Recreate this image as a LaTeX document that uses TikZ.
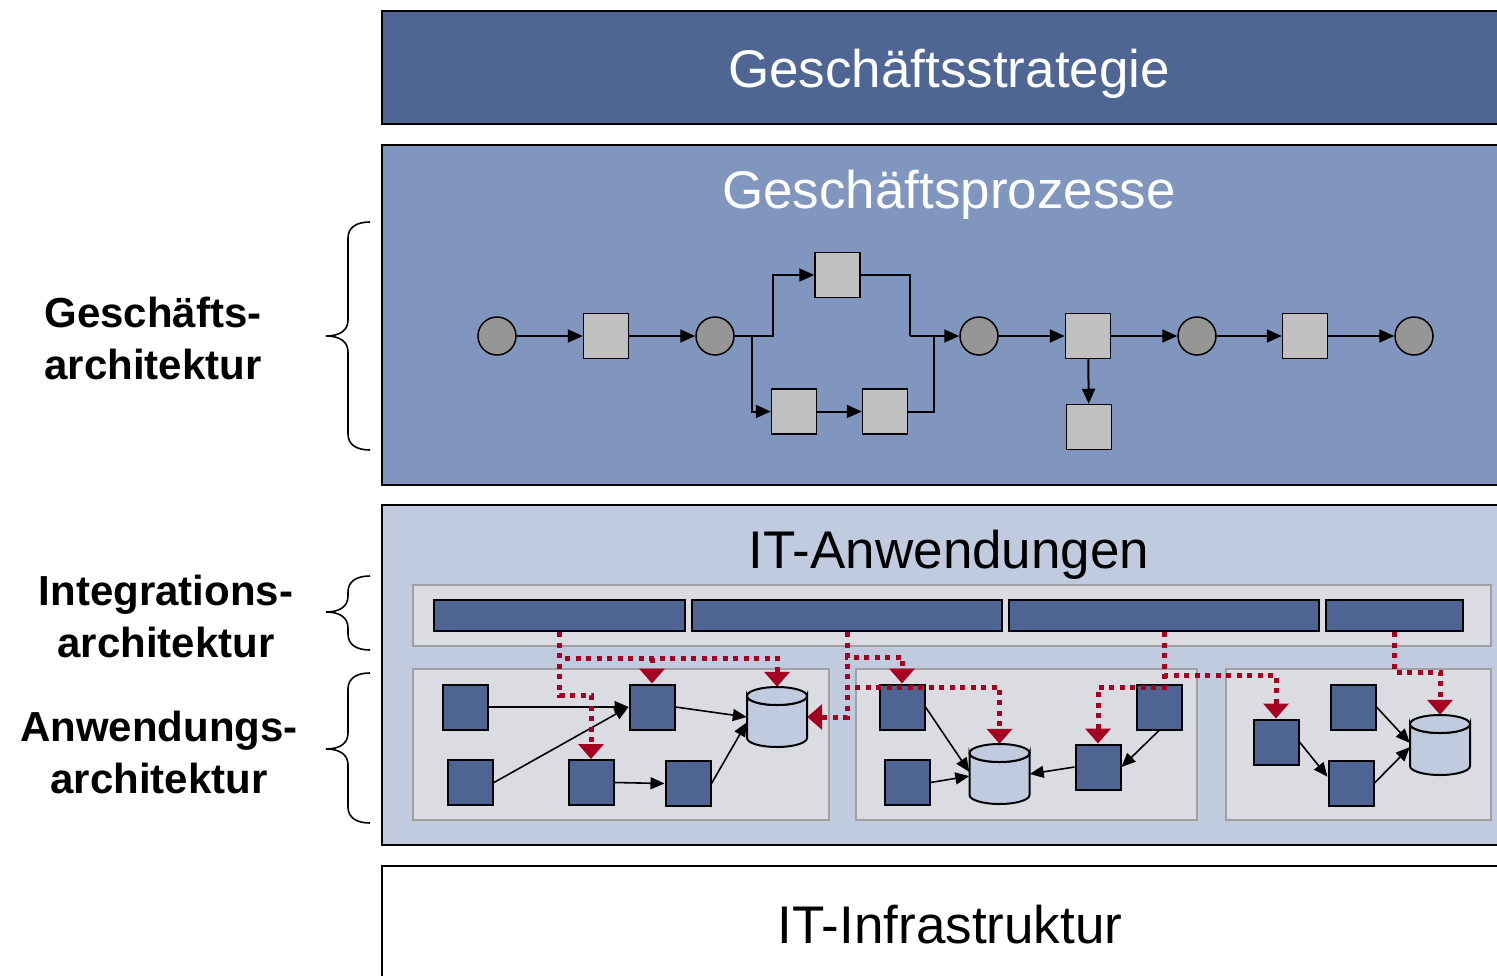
\documentclass[tikz,border=0pt]{standalone}
\usepackage{fontspec}
\setmainfont{Liberation Sans}
\usetikzlibrary{arrows.meta}

\definecolor{stratblue}{RGB}{79,101,148}
\definecolor{procblue}{RGB}{128,150,190}
\definecolor{appblue}{RGB}{192,203,224}
\definecolor{panelgray}{RGB}{218,220,225}
\definecolor{panelline}{RGB}{160,160,160}
\definecolor{compblue}{RGB}{78,100,146}
\definecolor{taskgray}{RGB}{192,192,192}
\definecolor{eventgray}{RGB}{150,150,150}
\definecolor{linkred}{RGB}{165,0,33}

% data store: a box node for anchoring plus the drawn cylinder
\newcommand\dbstore[3]{%
  \node[storebox] (#1) at (#2,#3) {};
  \filldraw[store] (#2-30,#3-21) -- (#2-30,#3+21)
    arc[start angle=180,end angle=0,x radius=30,y radius=9]
    -- (#2+30,#3-21) arc[start angle=0,end angle=180,x radius=30,y radius=9] -- cycle;
  \filldraw[store] (#2,#3-21) ellipse[x radius=30,y radius=9];
}
% curly brace opening to the right: top, tip, bottom
\newcommand\sidebrace[3]{%
  \draw[brace] (370,#1) .. controls (357,#1) and (348,#1+5) .. (348,#1+16)
    -- (348,#2-16) .. controls (348,#2-5) and (339,#2) .. (326,#2)
    .. controls (339,#2) and (348,#2+5) .. (348,#2+16)
    -- (348,#3-16) .. controls (348,#3-5) and (357,#3) .. (370,#3);
}

\begin{document}
\begin{tikzpicture}[x=1pt,y=-1pt,
  layer/.style={draw=black,line width=2pt},
  bandtitle/.style={font=\fontsize{53}{60}\selectfont,anchor=base,inner sep=0pt},
  sidelabel/.style={font=\bfseries\fontsize{42}{52}\selectfont,align=center,inner sep=0pt},
  brace/.style={line width=1.6pt},
  event/.style={circle,draw=black,line width=1.5pt,fill=eventgray,minimum size=38pt,inner sep=0pt},
  task/.style={rectangle,draw=black,line width=1.5pt,fill=taskgray,minimum size=45pt,inner sep=0pt},
  flowline/.style={line width=2pt},
  flow/.style={flowline,-{Triangle[length=15pt,width=13pt]}},
  panel/.style={draw=panelline,line width=2pt,fill=panelgray},
  bar/.style={rectangle,draw=black,line width=2pt,fill=compblue,minimum height=31pt,inner sep=0pt},
  comp/.style={rectangle,draw=black,line width=2pt,fill=compblue,minimum size=45pt,inner sep=0pt},
  storebox/.style={rectangle,minimum width=60pt,minimum height=60pt,inner sep=0pt},
  store/.style={draw=black,line width=2pt,fill=appblue},
  dep/.style={line width=1.6pt,-{Triangle[length=14pt,width=12pt]}},
  link/.style={draw=linkred,line width=5pt,dash pattern=on 5pt off 5.5pt},
  linkarrow/.style={link,-{Triangle[length=15pt,width=25pt]}}
]
\useasboundingbox (0,0) rectangle (1497,975);
\clip (0,0) rectangle (1497,975);

% ---- layers ----
\draw[layer,fill=stratblue] (382,11) rectangle (1520,124);
\draw[layer,fill=procblue]  (382,145) rectangle (1520,485);
\draw[layer,fill=appblue]   (382,505) rectangle (1520,845);
\draw[layer,fill=white]     (382,866) rectangle (1520,995);

\node[bandtitle,text=white] (tStrat) at (949,87)  {Geschäftsstrategie};
\node[bandtitle,text=white] (tProc)  at (949,208) {Geschäftsprozesse};
\node[bandtitle]            (tApps)  at (949,568) {IT-Anwendungen};
\node[bandtitle]            (tInfra) at (950,943) {IT-Infrastruktur};

% ---- side labels ----
\node[sidelabel] (lBiz) at (153,338) {Geschäfts-\\architektur};
\node[sidelabel] (lInt) at (166,616) {Integrations-\\architektur};
\node[sidelabel] (lApp) at (159,752) {Anwendungs-\\architektur};
\sidebrace{222}{336}{450}
\sidebrace{576}{612}{650}
\sidebrace{673}{749}{823}

% ---- business process ----
\node[event] (e1) at (497,336) {};
\node[task]  (p1) at (606,336) {};
\node[event] (e2) at (715,336) {};
\node[task]  (pt) at (837.5,275) {};
\node[task]  (pb1) at (794,411.5) {};
\node[task]  (pb2) at (885,411.5) {};
\node[event] (e3) at (979,336) {};
\node[task]  (p3) at (1088,336) {};
\node[task]  (p3b) at (1089,427) {};
\node[event] (e4) at (1197,336) {};
\node[task]  (p4) at (1305,336) {};
\node[event] (e5) at (1414,336) {};

\coordinate (split) at (752,336);
\coordinate (fork)  at (773,336);
\coordinate (joinA) at (910,336);
\coordinate (joinB) at (934,336);

\draw[flow] (e1) -- (p1);
\draw[flow] (p1) -- (e2);
\draw[flow] (e2.east) -- (fork) |- (pt.west);
\draw[flow] (split) |- (pb1.west);
\draw[flow] (pb1) -- (pb2);
\draw[flowline] (pt.east) -| (joinA);
\draw[flowline] (pb2.east) -| (joinB);
\draw[flow] (joinA) -- (e3.west);
\draw[flow] (e3) -- (p3);
\draw[flow] (p3) -- (p3b);
\draw[flow] (p3) -- (e4);
\draw[flow] (e4) -- (p4);
\draw[flow] (p4) -- (e5);

% ---- integration layer ----
\draw[panel] (413,585) rectangle (1491,646);
\node[bar,minimum width=251pt] (bar1) at (559.5,615.5) {};
\node[bar,minimum width=310pt] (bar2) at (847,615.5) {};
\node[bar,minimum width=310pt] (bar3) at (1164,615.5) {};
\node[bar,minimum width=137pt] (bar4) at (1394.5,615.5) {};

% ---- application panels ----
\draw[panel] (413,669) rectangle (829,820);
\draw[panel] (856,669) rectangle (1197,820);
\draw[panel] (1226,669) rectangle (1491,820);

% first application
\node[comp] (a1) at (465,707) {};
\node[comp] (a2) at (470.5,782.5) {};
\node[comp] (a3) at (652,707) {};
\node[comp] (a4) at (591,782.5) {};
\node[comp] (a5) at (688,783.5) {};
\dbstore{d1}{777}{717}
\draw[dep] (a1.east) -- (a3.west);
\draw[dep] (a2.east) -- (a3.west);
\draw[dep] (a3.east) -- (d1.west);
\draw[dep] (a4.east) -- (a5.west);
\draw[dep] (a5.east) -- (d1.190);

% second application
\node[comp] (b1) at (902,707) {};
\node[comp] (b2) at (907,782.5) {};
\node[comp] (b3) at (1098,767) {};
\node[comp] (b4) at (1159,707) {};
\dbstore{d2}{999.5}{774}
\draw[dep] (b1.east) -- (d2.176);
\draw[dep] (b2.east) -- (d2.184);
\draw[dep] (b3.west) -- (d2.east);
\draw[dep] (b4.south) -- (b3.east);

% third application
\node[comp] (c1) at (1276,742) {};
\node[comp] (c2) at (1353,707) {};
\node[comp] (c3) at (1351,783) {};
\dbstore{d3}{1440}{745}
\draw[dep] (c1.east) -- (c3.165);
\draw[dep] (c2.east) -- (d3.176);
\draw[dep] (c3.east) -- (d3.184);

% ---- integration links ----
\coordinate (k1) at (591,695);
\coordinate (k2) at (777,658);
\coordinate (k3) at (902,657);
\coordinate (k4) at (999.5,687);
\coordinate (k5) at (1276,675);
\coordinate (k6) at (1098,687);
\coordinate (k7) at (1440,672);

\draw[linkarrow] (bar1.south) |- (k1) -- (a4.north);
\draw[linkarrow] (bar1.south) |- (k2) -- (d1.north);
\draw[linkarrow] (a3.north |- k2) -- (a3.north);
\draw[linkarrow] (bar2.south) |- (d1.east);
\draw[linkarrow] (bar2.south) |- (k3) -- (b1.north);
\draw[linkarrow] (bar2.south) |- (k4) -- (d2.north);
\draw[linkarrow] (bar3.south) |- (k5) -- (c1.north);
\draw[linkarrow] (bar3.south) |- (k6) -- (b3.north);
\draw[linkarrow] (bar4.south) |- (k7) -- (d3.north);
\end{tikzpicture}
\end{document}
